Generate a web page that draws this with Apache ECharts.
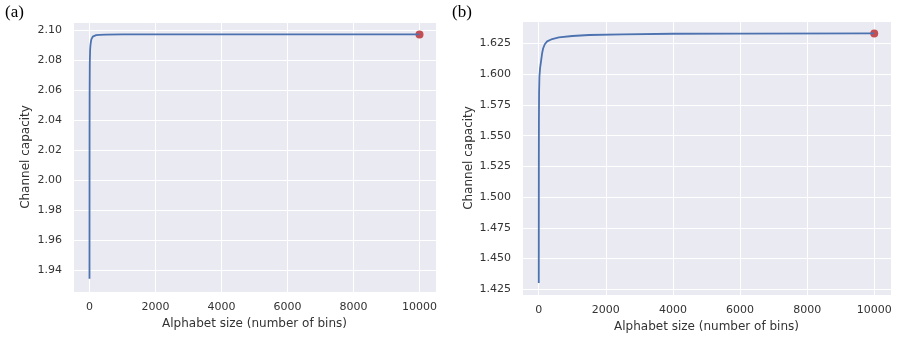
<!DOCTYPE html>
<html>
<head>
<meta charset="utf-8">
<script src="https://cdn.jsdelivr.net/npm/echarts@6/dist/echarts.min.js"></script>
<style>
  html, body { margin: 0; padding: 0; background: #fff; }
  #chart { width: 897px; height: 341px; }
</style>
</head>
<body>
<div id="chart"></div>
<script>
// panel (a)
const binsA = [1, 2, 3, 5, 10, 20, 30, 45, 60, 80, 100, 150, 200, 300, 500, 1000, 2000, 5000, 10000]
const capA = [1.934, 2.000, 2.030, 2.058, 2.078, 2.087, 2.090, 2.0925, 2.094, 2.095, 2.0956, 2.0963, 2.0966, 2.0968, 2.0970, 2.0971, 2.0971, 2.0971, 2.0971]
// panel (b)
const binsB = [1, 2, 3, 5, 10, 20, 40, 70, 100, 130, 180, 250, 400, 600, 1000, 1500, 2500, 4000, 6000, 10000]
const capB = [1.430, 1.500, 1.530, 1.560, 1.585, 1.598, 1.605, 1.611, 1.617, 1.621, 1.6245, 1.6268, 1.6287, 1.6300, 1.6312, 1.6320, 1.6325, 1.6330, 1.6332, 1.6333]
const xTicks = [0, 2000, 4000, 6000, 8000, 10000]

const pairs = (xs, ys) => xs.map((x, i) => [x, ys[i]])
const lastOf = (xs, ys) => [[xs[xs.length - 1], ys[ys.length - 1]]]

let myChart = echarts.init(document.getElementById('chart'))

let labelStyle = { color: '#333', fontSize: 11, fontFamily: 'DejaVu Sans' }
let nameStyle = { color: '#333', fontSize: 12, fontFamily: 'DejaVu Sans' }

function makeX (idx) {
  return {
    type: 'value',
    gridIndex: idx,
    min: -499,
    max: 10500,
    minInterval: 2000,
    maxInterval: 2000,
    name: 'Alphabet size (number of bins)',
    nameLocation: 'middle',
    nameGap: 24,
    nameTextStyle: nameStyle,
    axisLine: { show: false },
    axisTick: { show: false },
    axisLabel: Object.assign({ margin: 10, showMinLabel: false, showMaxLabel: false,
      formatter: v => xTicks.indexOf(v) >= 0 ? String(v) : '' }, labelStyle),
    splitLine: { show: true, lineStyle: { color: '#fff', width: 1 } }
  }
}

function makeY (idx, min, max, step, digits, gap) {
  return {
    type: 'value',
    gridIndex: idx,
    min: min,
    max: max,
    minInterval: step,
    maxInterval: step,
    name: 'Channel capacity',
    nameLocation: 'middle',
    nameGap: gap,
    nameTextStyle: nameStyle,
    axisLine: { show: false },
    axisTick: { show: false },
    axisLabel: Object.assign({ margin: 11, showMinLabel: false, showMaxLabel: false,
      formatter: v => v.toFixed(digits) }, labelStyle),
    splitLine: { show: true, lineStyle: { color: '#fff', width: 1 } }
  }
}

let myChartOption = {
  animation: false,
  graphic: [
    { type: 'text', left: 5, top: 4, style: { text: '(a)', fontSize: 17, fontFamily: 'Liberation Serif', fill: '#000' } },
    { type: 'text', left: 452, top: 4, style: { text: '(b)', fontSize: 17, fontFamily: 'Liberation Serif', fill: '#000' } }
  ],
  grid: [
    { left: 73, top: 22, width: 363, height: 270, show: true, backgroundColor: '#eaeaf2', borderWidth: 0 },
    { left: 522, top: 21, width: 369, height: 274, show: true, backgroundColor: '#eaeaf2', borderWidth: 0 }
  ],
  xAxis: [makeX(0), makeX(1)],
  yAxis: [
    makeY(0, 1.9252, 2.1054, 0.02, 2, 41),
    makeY(1, 1.4203, 1.6434, 0.025, 3, 47)
  ],
  series: [
    {
      type: 'line', xAxisIndex: 0, yAxisIndex: 0, showSymbol: false,
      data: pairs(binsA, capA), lineStyle: { color: '#4c72b0', width: 1.8 }
    },
    {
      type: 'scatter', xAxisIndex: 0, yAxisIndex: 0, symbolSize: 8,
      data: lastOf(binsA, capA), itemStyle: { color: '#c44e52', opacity: 1 }
    },
    {
      type: 'line', xAxisIndex: 1, yAxisIndex: 1, showSymbol: false,
      data: pairs(binsB, capB), lineStyle: { color: '#4c72b0', width: 1.8 }
    },
    {
      type: 'scatter', xAxisIndex: 1, yAxisIndex: 1, symbolSize: 8,
      data: lastOf(binsB, capB), itemStyle: { color: '#c44e52', opacity: 1 }
    }
  ]
}
myChart.setOption(myChartOption)
</script>
</body>
</html>
